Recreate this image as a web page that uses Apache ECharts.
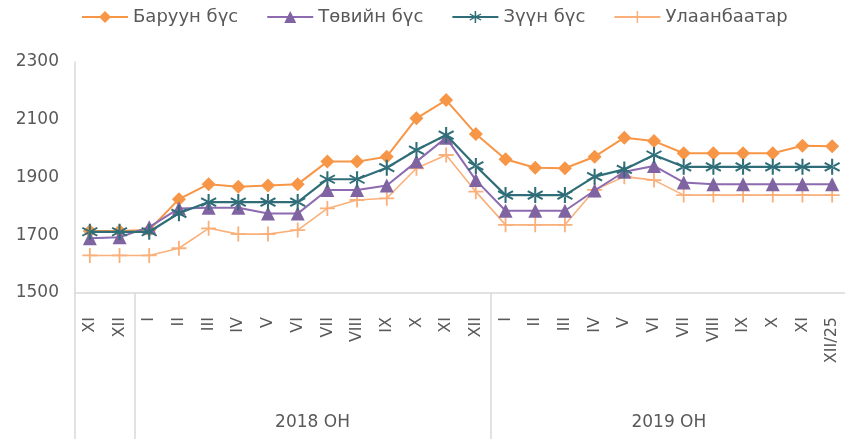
<!DOCTYPE html>
<html>
<head>
<meta charset="utf-8">
<script src="https://cdn.jsdelivr.net/npm/echarts@6/dist/echarts.min.js"></script>
<style>html,body{margin:0;padding:0;background:#fff}#c{width:845px;height:439px}</style>
</head>
<body>
<div id="c"></div>
<script>
// Categories (months) and year groups
var categories = ['XI','XII','I','II','III','IV','V','VI','VII','VIII','IX','X','XI','XII','I','II','III','IV','V','VI','VII','VIII','IX','X','XI','XII/25'];
var groupNames = ['', '2018 ОН', '2019 ОН'];
var groupStarts = [0, 2, 14];
var groupEnds = [2, 14, 26];

// Series values
var seriesNames = ['Баруун бүс', 'Төвийн бүс', 'Зүүн бүс', 'Улаанбаатар'];
var baruun = [1715,1715,1718,1825,1877,1868,1872,1877,1955,1955,1972,2105,2168,2051,1963,1934,1932,1972,2038,2026,1984,1984,1984,1984,2010,2008];
var tuviin = [1690,1693,1728,1793,1795,1795,1775,1775,1857,1857,1872,1955,2038,1891,1785,1785,1785,1855,1920,1940,1883,1877,1877,1877,1877,1877];
var zuun   = [1712,1712,1712,1776,1815,1815,1815,1815,1894,1894,1934,1995,2047,1940,1839,1839,1839,1903,1928,1978,1937,1937,1937,1937,1937,1937];
var ub     = [1630,1630,1630,1655,1724,1704,1704,1718,1793,1822,1828,1932,1978,1851,1736,1736,1736,1857,1903,1891,1839,1839,1839,1839,1839,1839];

var yMin = 1500, yMax = 2300, yStep = 200;

var FONT = 'DejaVu Sans';
var TXT = '#595959';
var AX = '#D9D9D9';

var plusPath = 'path://M4.4,0h1.2v10h-1.2z M0,4.4h10v1.2h-10z';
var starPath = 'path://M4.4,0h1.2v10h-1.2z M0.97,1.98L9.63,6.98L9.03,8.02L0.37,3.02z M0.97,8.02L9.63,3.02L9.03,1.98L0.37,6.98z';

var boundarySet = {};
groupStarts.forEach(function(s){ boundarySet[s] = true; });

var chart = echarts.init(document.getElementById('c'), null, {renderer:'canvas'});
chart.setOption({
  animation: false,
  backgroundColor: '#fff',
  textStyle: {fontFamily: FONT},
  legend: {
    top: 3, left: 76,
    itemWidth: 46, itemHeight: 15, itemGap: 28,
    textStyle: {color: TXT, fontSize: 18, fontFamily: FONT},
    data: seriesNames
  },
  grid: {left: 75, width: 772, top: 62, bottom: 146, containLabel: false, outerBoundsMode: 'none'},
  xAxis: [{
    type: 'category',
    data: categories,
    boundaryGap: true,
    axisLine: {show: true, lineStyle: {color: AX, width: 1.5}},
    axisTick: {show: true, length: 146, lineStyle: {color: AX, width: 1.5},
      interval: function(idx){ return !!boundarySet[idx]; }},
    axisLabel: {rotate: 90, margin: 24, interval: 0, color: TXT, fontSize: 16, fontFamily: FONT},
    splitLine: {show: false}
  }, {
    type: 'value',
    min: 0, max: 26, interval: 1,
    position: 'bottom',
    axisLine: {show: false}, axisTick: {show: false}, splitLine: {show: false},
    axisLabel: {
      margin: 121, color: TXT, fontSize: 17, fontFamily: FONT, showMinLabel: true, showMaxLabel: true,
      formatter: function(v){
        for (var i = 0; i < groupNames.length; i++) {
          if (Math.abs((groupStarts[i] + groupEnds[i]) / 2 - v) < 1e-6) return groupNames[i];
        }
        return '';
      }
    }
  }],
  yAxis: {
    type: 'value', min: yMin, max: yMax, interval: yStep,
    axisLine: {show: true, lineStyle: {color: AX, width: 1.5}},
    axisTick: {show: false},
    splitLine: {show: false},
    axisLabel: {color: TXT, fontSize: 17, margin: 16, fontFamily: FONT,
      formatter: function(v){ return String(v); }}
  },
  series: [{
    name: seriesNames[0], type: 'line', data: baruun,
    symbol: 'diamond', symbolSize: 14,
    lineStyle: {color: '#F79646', width: 2}, itemStyle: {color: '#F79646'}, z: 2
  }, {
    name: seriesNames[1], type: 'line', data: tuviin,
    symbol: 'triangle', symbolSize: 14,
    lineStyle: {color: '#8C6BB1', width: 2}, itemStyle: {color: '#8064A2'}, z: 3
  }, {
    name: seriesNames[2], type: 'line', data: zuun,
    symbol: starPath, symbolSize: 16,
    lineStyle: {color: '#2F6E78', width: 2.2}, itemStyle: {color: '#2F6E78'}, z: 4
  }, {
    name: seriesNames[3], type: 'line', data: ub,
    symbol: plusPath, symbolSize: 15,
    lineStyle: {color: '#FAB07A', width: 1.6}, itemStyle: {color: '#FAB07A'}, z: 1
  }]
});
</script>
</body>
</html>
